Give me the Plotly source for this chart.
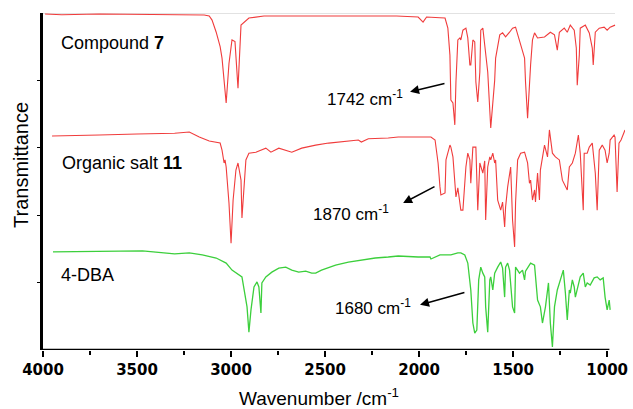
import plotly.graph_objects as go

# ---- data (wavenumber in cm^-1, transmittance in offset display units) ----
c7_wn = [3989, 3900, 3700, 3500, 3300, 3222, 3143, 3116, 3101, 3079, 3063, 3058, 3048, 3026, 3011,
         2995, 2979, 2963, 2947, 2905, 2825, 2500, 2300, 2120, 2005, 1979, 1960, 1937, 1889, 1862,
         1847, 1836, 1831, 1820, 1810, 1804, 1794, 1783, 1778, 1767, 1751, 1741, 1730, 1725, 1714,
         1704, 1698, 1688, 1677, 1672, 1661, 1651, 1635, 1619, 1598, 1593, 1571, 1556, 1540, 1519,
         1503, 1487, 1466, 1450, 1439, 1434, 1423, 1407, 1397, 1386, 1370, 1333, 1302, 1280, 1265,
         1254, 1228, 1212, 1196, 1175, 1164, 1159, 1148, 1143, 1116, 1095, 1079, 1074, 1063, 1042,
         1016, 1000, 984, 958]
c7_t = [99.7, 99.5, 99.7, 99.6, 99.7, 99.6, 99.4, 99.1, 97.9, 94.3, 90.5, 90.0, 86.6, 73.3, 85.0,
        92.0, 91.5, 77.7, 96.4, 98.5, 99.1, 99.1, 99.2, 99.1, 98.8, 97.3, 98.8, 98.8, 98.6, 98.5,
        95.5, 87.5, 74.2, 73.3, 66.8, 79.5, 92.0, 92.6, 92.0, 94.9, 95.5, 92.6, 84.6, 84.6, 92.0,
        91.4, 79.5, 73.6, 82.5, 94.9, 95.5, 90.5, 82.5, 65.9, 80.0, 86.6, 93.5, 94.1, 92.9, 94.3,
        95.5, 95.8, 91.4, 88.4, 86.6, 79.5, 68.8, 84.6, 92.0, 94.1, 92.6, 92.9, 94.3, 93.5, 89.0,
        94.3, 95.5, 94.3, 96.4, 94.9, 89.6, 78.6, 87.5, 95.5, 96.4, 94.1, 89.6, 84.6, 94.3, 95.5,
        95.8, 94.9, 95.8, 96.4]

s11_wn = [3952, 3800, 3700, 3500, 3300, 3222, 3169, 3116, 3074, 3058, 3048, 3037, 3032, 3026, 3011,
          3000, 2989, 2974, 2963, 2947, 2942, 2931, 2921, 2905, 2868, 2815, 2788, 2746, 2704, 2677,
          2624, 2550, 2481, 2376, 2323, 2307, 2270, 2164, 2111, 2005, 1937, 1915, 1899, 1889, 1884,
          1862, 1857, 1836, 1831, 1820, 1810, 1804, 1794, 1783, 1778, 1767, 1751, 1741, 1730, 1725,
          1714, 1698, 1688, 1677, 1672, 1661, 1651, 1646, 1635, 1624, 1619, 1608, 1598, 1593, 1582,
          1566, 1556, 1545, 1540, 1529, 1513, 1503, 1492, 1487, 1476, 1460, 1439, 1423, 1413, 1407,
          1397, 1386, 1381, 1370, 1360, 1355, 1333, 1317, 1307, 1291, 1275, 1254, 1238, 1212, 1201,
          1185, 1169, 1153, 1143, 1127, 1122, 1106, 1095, 1079, 1063, 1053, 1042, 1026, 1011, 1000,
          989, 984, 963, 958, 947, 937, 926, 910, 905]
s11_t = [63.5, 63.6, 63.8, 64.1, 64.3, 64.7, 63.2, 62.0, 61.4, 61.4, 59.3, 55.5, 56.4, 54.3, 43.6,
         31.7, 44.5, 53.4, 55.5, 50.4, 39.2, 48.4, 56.4, 58.4, 58.7, 59.9, 58.7, 59.9, 59.3, 58.7,
         59.9, 60.8, 61.4, 62.0, 62.3, 61.7, 62.7, 62.9, 63.2, 63.2, 63.2, 62.3, 55.5, 48.4, 46.0,
         46.6, 56.4, 60.8, 60.2, 57.3, 48.4, 45.4, 48.1, 42.4, 41.5, 41.5, 54.3, 58.4, 56.4, 49.5,
         60.2, 60.2, 41.5, 55.5, 54.3, 52.5, 56.1, 38.6, 54.3, 57.3, 56.4, 58.4, 55.5, 56.4, 44.5,
         41.5, 43.9, 36.5, 42.4, 48.4, 54.3, 38.6, 30.6, 43.6, 56.4, 58.4, 58.7, 55.5, 49.5, 50.4,
         44.5, 47.5, 43.9, 52.5, 44.5, 53.4, 60.8, 57.3, 65.3, 58.4, 57.3, 56.4, 50.4, 47.5, 54.3,
         55.5, 58.4, 63.8, 58.4, 41.5, 58.4, 58.4, 60.2, 61.4, 52.5, 41.5, 59.3, 60.8, 59.3, 55.5,
         58.4, 62.3, 63.8, 63.2, 46.9, 61.4, 62.3, 64.7, 65.3]

dba_wn = [3947, 3645, 3471, 3300, 3222, 3153, 3079, 3026, 2995, 2942, 2931, 2915, 2905, 2894, 2878,
          2862, 2852, 2841, 2836, 2815, 2783, 2746, 2709, 2677, 2640, 2603, 2571, 2550, 2519, 2444,
          2376, 2307, 2233, 2164, 2111, 2005, 1942, 1937, 1915, 1889, 1862, 1831, 1794, 1778, 1757,
          1741, 1725, 1714, 1704, 1693, 1683, 1672, 1661, 1651, 1646, 1635, 1624, 1619, 1608, 1598,
          1582, 1566, 1556, 1545, 1540, 1529, 1519, 1503, 1492, 1487, 1466, 1450, 1439, 1434, 1407,
          1386, 1370, 1355, 1344, 1328, 1312, 1302, 1291, 1280, 1265, 1249, 1233, 1222, 1212, 1201,
          1196, 1185, 1175, 1169, 1159, 1143, 1127, 1116, 1106, 1090, 1069, 1053, 1037, 1021, 1011,
          1000, 989, 984]
dba_t = [29.1, 29.4, 29.4, 28.5, 28.8, 28.2, 27.3, 25.8, 23.7, 21.7, 17.8, 12.8, 5.3, 11.9, 18.7,
         20.2, 18.7, 11.0, 19.9, 21.7, 23.1, 24.3, 24.6, 23.7, 23.1, 23.4, 22.8, 22.8, 23.7, 25.2,
         26.1, 26.7, 27.3, 27.6, 27.9, 27.6, 27.6, 27.0, 27.6, 28.2, 28.2, 28.2, 28.8, 28.8, 28.2,
         25.8, 17.8, 8.0, 5.0, 5.9, 20.8, 24.6, 22.8, 21.7, 12.8, 5.3, 20.8, 21.7, 17.8, 22.8,
         24.6, 26.1, 24.3, 15.7, 24.6, 25.8, 23.7, 12.8, 11.0, 24.6, 22.8, 23.7, 20.8, 23.4, 25.8,
         25.2, 14.8, 12.8, 8.0, 12.8, 19.9, 8.0, 0.9, 12.8, 17.8, 20.8, 23.7, 16.9, 8.9, 17.8,
         16.9, 20.8, 18.7, 15.7, 17.8, 21.7, 22.8, 18.7, 19.9, 19.3, 21.4, 21.7, 20.8, 21.4, 15.7,
         11.9, 14.8, 11.9]

x_ticks = [4000, 3500, 3000, 2500, 2000, 1500, 1000]
x_tick_labels = ["4000", "3500", "3000", "2500", "2000", "1500", "1000"]

RED = "#f03c3c"
GREEN = "#3ccf3c"
TXT = "Liberation Sans, Arial, sans-serif"

fig = go.Figure()
fig.add_trace(go.Scatter(x=c7_wn, y=c7_t, mode="lines", line=dict(color=RED, width=1.1),
                         showlegend=False, hoverinfo="skip"))
fig.add_trace(go.Scatter(x=s11_wn, y=s11_t, mode="lines", line=dict(color=RED, width=1.1),
                         showlegend=False, hoverinfo="skip"))
fig.add_trace(go.Scatter(x=dba_wn, y=dba_t, mode="lines", line=dict(color=GREEN, width=1.3),
                         showlegend=False, hoverinfo="skip"))

# light top frame line and bottom axis line
fig.add_shape(type="line", xref="x", yref="y", x0=4000, x1=958, y0=100, y1=100,
              line=dict(color="#d9d9d9", width=1.5), layer="below")
fig.add_shape(type="line", xref="x", yref="y", x0=4000, x1=988, y0=0, y1=0,
              line=dict(color="black", width=2.5))

ann = []
labels = [("Compound <b>7</b>", 3915, 91.1), ("Organic salt <b>11</b>", 3910, 55.5),
          ("4-DBA", 3915, 22.3)]
for t, x, y in labels:
    ann.append(dict(text=t, x=x, y=y, xref="x", yref="y", xanchor="left", yanchor="middle",
                    showarrow=False, font=dict(family=TXT, size=18, color="black")))

peaks = [("1742 cm<sup>-1</sup>", 2286, 74.8, 2048, 76.6, 1857, 79.2),
         ("1870 cm<sup>-1</sup>", 2360, 40.7, 2085, 43.6, 1910, 48.7),
         ("1680 cm<sup>-1</sup>", 2243, 12.8, 1995, 13.4, 1751, 17.2)]
for t, tx, ty, hx, hy, sx, sy in peaks:
    ann.append(dict(text=t, x=tx, y=ty, xref="x", yref="y", xanchor="center", yanchor="middle",
                    showarrow=False, font=dict(family=TXT, size=17, color="black")))
    ann.append(dict(text="", x=hx, y=hy, ax=sx, ay=sy, xref="x", yref="y", axref="x", ayref="y",
                    showarrow=True, arrowhead=2, arrowsize=1.2, arrowwidth=1.5, arrowcolor="black"))

ann.append(dict(text="Transmittance", x=-0.039, y=0.55, xref="paper", yref="paper",
                textangle=-90, showarrow=False, xanchor="center", yanchor="middle",
                font=dict(family=TXT, size=20, color="black")))
ann.append(dict(text="Wavenumber /cm<sup>-1</sup>", x=0.4735, y=-0.138, xref="paper", yref="paper",
                showarrow=False, xanchor="center", yanchor="middle",
                font=dict(family=TXT, size=19, color="black")))

fig.update_layout(
    width=633, height=409,
    margin=dict(l=43, r=5, t=13, b=59),
    paper_bgcolor="white", plot_bgcolor="white",
    annotations=ann,
    xaxis=dict(range=[4000, 905], showgrid=False, zeroline=False, showline=False,
               tickmode="array", tickvals=x_ticks, ticktext=x_tick_labels,
               ticks="outside", ticklen=6, tickwidth=2, tickcolor="black",
               minor=dict(dtick=250, tick0=0, ticks="outside", ticklen=4, tickwidth=1.5,
                          tickcolor="black", showgrid=False),
               tickfont=dict(family="DejaVu Sans", size=15, color="black", weight="bold")),
    yaxis=dict(range=[0, 100], showgrid=False, zeroline=False, showline=True,
               linecolor="black", linewidth=2.5, ticks="outside", ticklen=3, tickwidth=1.2,
               tickcolor="black", tickvals=[20, 40, 60, 80], showticklabels=False),
)

fig.write_html("out.html", config={"displayModeBar": False},
               post_script="document.body.style.margin='0';document.body.style.padding='0';")
